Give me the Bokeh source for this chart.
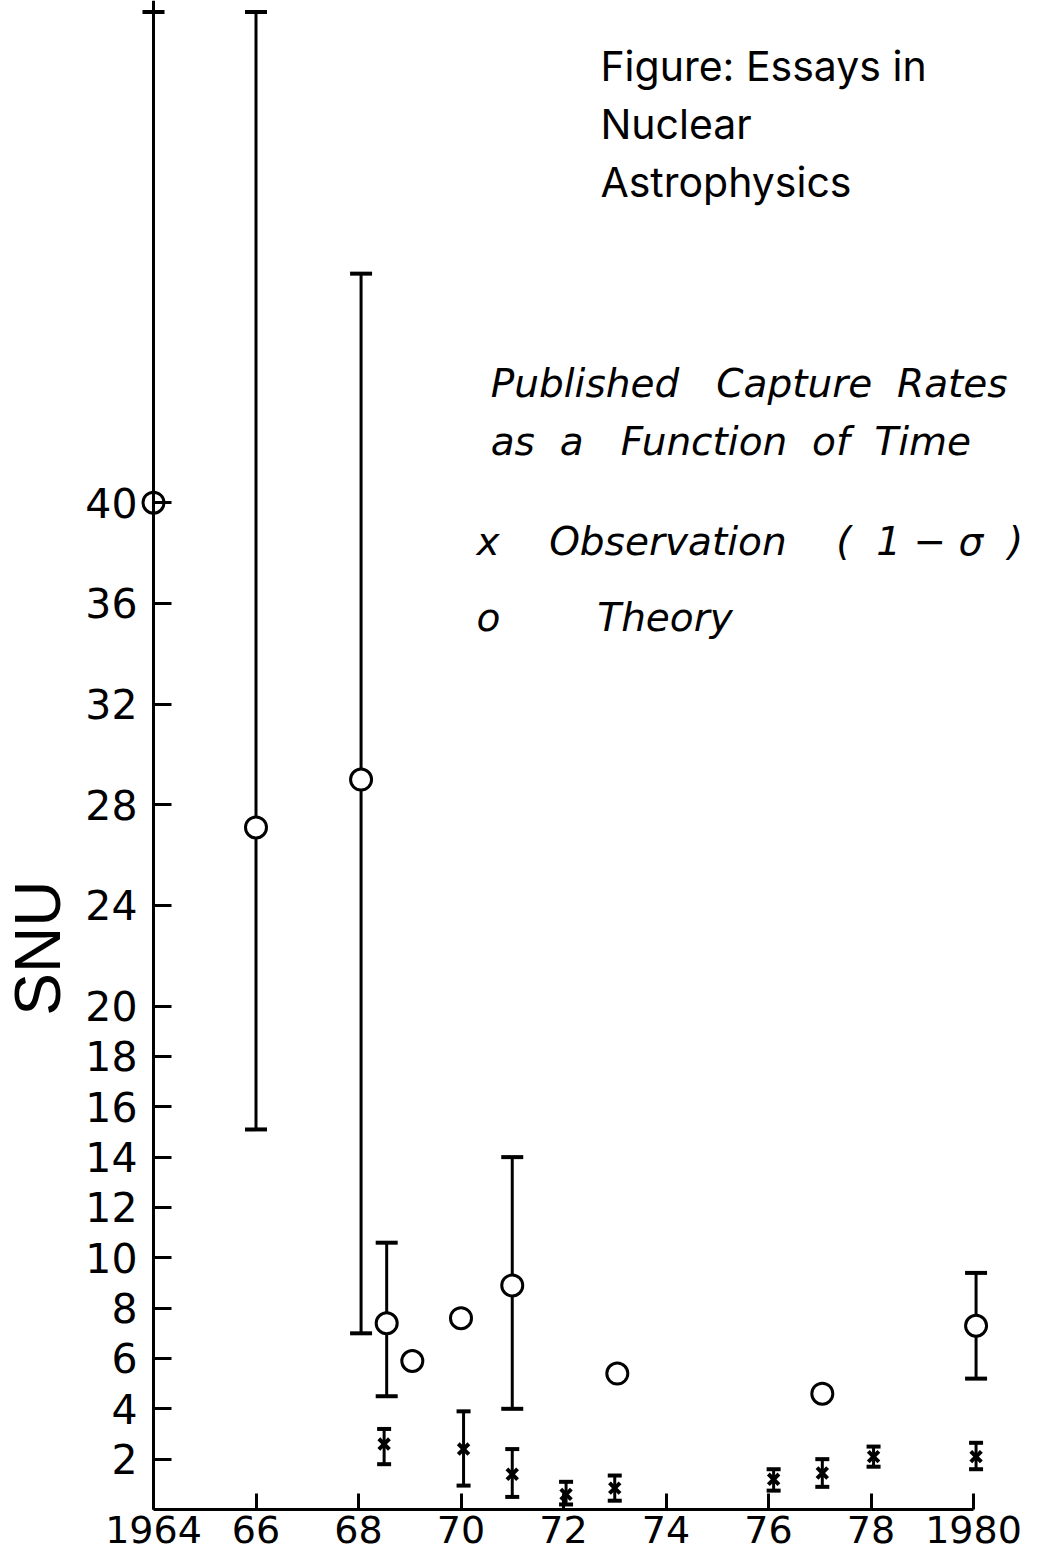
import math
from bokeh.plotting import figure
from bokeh.models import FixedTicker, Label
from bokeh.embed import file_html
from bokeh.resources import INLINE

# ---------------- data ----------------
# Theory predictions (open circles)
theory_year = [1964.0, 1966.0, 1968.05, 1968.55, 1969.05, 1970.0, 1971.0, 1973.05, 1977.05, 1980.05]
theory_snu = [40.0, 27.1, 29.0, 7.4, 5.9, 7.6, 8.9, 5.4, 4.6, 7.3]
# Theory error bars
theory_err_year = [1964.0, 1966.0, 1968.05, 1968.55, 1971.0, 1980.05]
theory_err_low = [40.0, 15.1, 7.0, 4.5, 4.0, 5.2]
theory_err_high = [59.5, 59.5, 49.1, 10.6, 14.0, 9.4]

# Observations (x, 1-sigma)
obs_year = [1968.5, 1970.05, 1971.0, 1972.05, 1973.0, 1976.1, 1977.05, 1978.05, 1980.05]
obs_snu = [2.6, 2.4, 1.4, 0.6, 0.85, 1.2, 1.45, 2.1, 2.1]
obs_low = [1.8, 0.95, 0.5, 0.2, 0.35, 0.75, 0.9, 1.7, 1.6]
obs_high = [3.2, 3.9, 2.4, 1.1, 1.35, 1.6, 2.0, 2.5, 2.65]

x_ticks = [1964, 1966, 1968, 1970, 1972, 1974, 1976, 1978, 1980]
x_tick_labels = ["1964", "66", "68", "70", "72", "74", "76", "78", "1980"]
y_ticks = [2, 4, 6, 8, 10, 12, 14, 16, 18, 20, 24, 28, 32, 36, 40]

# ---------------- figure ----------------
W, H = 1040, 1560
X0_PX, PX_PER_YEAR = 153, 51.25
Y0_PX, PX_PER_SNU = 1509, 25.17
x_start = 1964 - X0_PX / PX_PER_YEAR
x_end = 1964 + (W - X0_PX) / PX_PER_YEAR
y_start = -(H - Y0_PX) / PX_PER_SNU
y_end = Y0_PX / PX_PER_SNU

p = figure(width=W, height=H, x_range=(x_start, x_end), y_range=(y_start, y_end),
           output_backend="svg", toolbar_location=None,
           min_border_left=0, min_border_right=0, min_border_top=0, min_border_bottom=0)
p.outline_line_color = None
p.grid.visible = False
p.background_fill_color = "white"
p.border_fill_color = "white"

FONT = "DejaVu Sans"
for ax in (p.xaxis[0], p.yaxis[0]):
    ax.axis_line_width = 3
    ax.axis_line_color = "black"
    ax.major_tick_line_width = 3
    ax.major_tick_line_color = "black"
    ax.major_tick_out = 0
    ax.minor_tick_line_color = None
    ax.major_label_text_font = FONT
    ax.major_label_text_color = "black"

p.xaxis.fixed_location = 0
p.xaxis.ticker = FixedTicker(ticks=x_ticks)
p.xaxis.major_label_overrides = {t: l for t, l in zip(x_ticks, x_tick_labels)}
p.xaxis.major_tick_in = 16
p.xaxis.bounds = (1964, 1980)
p.xaxis.major_label_standoff = 6
p.xaxis.major_label_text_font_size = "38px"

p.yaxis.fixed_location = 1964
p.yaxis.ticker = FixedTicker(ticks=y_ticks)
p.yaxis.major_tick_in = 18
p.yaxis.major_label_standoff = 16
p.yaxis.major_label_text_font_size = "41px"
p.yaxis.bounds = (0, y_end)

# ---------------- theory ----------------
p.segment(x0=theory_err_year, y0=theory_err_low, x1=theory_err_year, y1=theory_err_high,
          line_color="black", line_width=3)
p.scatter(x=theory_err_year, y=theory_err_high, marker="dash", size=22,
          line_color="black", line_width=4)
low_cap_x = [x for x in theory_err_year if x != 1964.0]
low_cap_y = [lo for x, lo in zip(theory_err_year, theory_err_low) if x != 1964.0]
p.scatter(x=low_cap_x, y=low_cap_y, marker="dash", size=22, line_color="black", line_width=4)
p.scatter(x=theory_year, y=theory_snu, marker="circle", size=21,
          fill_color="white", line_color="black", line_width=3)

# ---------------- observations ----------------
p.segment(x0=obs_year, y0=obs_low, x1=obs_year, y1=obs_high, line_color="black", line_width=3)
p.scatter(x=obs_year, y=obs_high, marker="dash", size=14, line_color="black", line_width=4)
p.scatter(x=obs_year, y=obs_low, marker="dash", size=14, line_color="black", line_width=4)
p.scatter(x=obs_year, y=obs_snu, marker="x", size=15, line_color="black", line_width=4)

# ---------------- texts ----------------
p.add_layout(Label(x=1964, y=22.3, x_offset=-116, text="SNU", angle=math.pi / 2,
                   text_align="center", text_baseline="middle",
                   text_font="Liberation Sans", text_font_size="64px", text_color="black"))

NB = "\u00a0"
leg = dict(text_font=FONT, text_font_style="italic", text_font_size="39px",
           text_color="black", text_baseline="alphabetic")
p.add_layout(Label(x=1970.58, y=44.75, text=f"Published{NB*3}Capture{NB*2}Rates", **leg))
p.add_layout(Label(x=1970.58, y=42.45, text=f"as{NB*2}a{NB*3}Function{NB*2}of{NB*2}Time", **leg))
p.add_layout(Label(x=1970.3, y=38.45, text="x", **leg))
p.add_layout(Label(x=1971.72, y=38.45,
                   text=f"Observation{NB*4}({NB*2}1{NB}\u2212{NB}\u03c3{NB*2})", **leg))
p.add_layout(Label(x=1970.3, y=35.45, text="o", **leg))
p.add_layout(Label(x=1972.66, y=35.45, text="Theory", **leg))

ttl = dict(text_font="Inter", text_font_size="41px", text_color="black", text_baseline="alphabetic")
p.add_layout(Label(x=1972.72, y=57.35, text="Figure: Essays in", **ttl))
p.add_layout(Label(x=1972.72, y=55.05, text="Nuclear", **ttl))
p.add_layout(Label(x=1972.72, y=52.75, text="Astrophysics", **ttl))

open("out.html", "w").write(file_html(p, INLINE))
